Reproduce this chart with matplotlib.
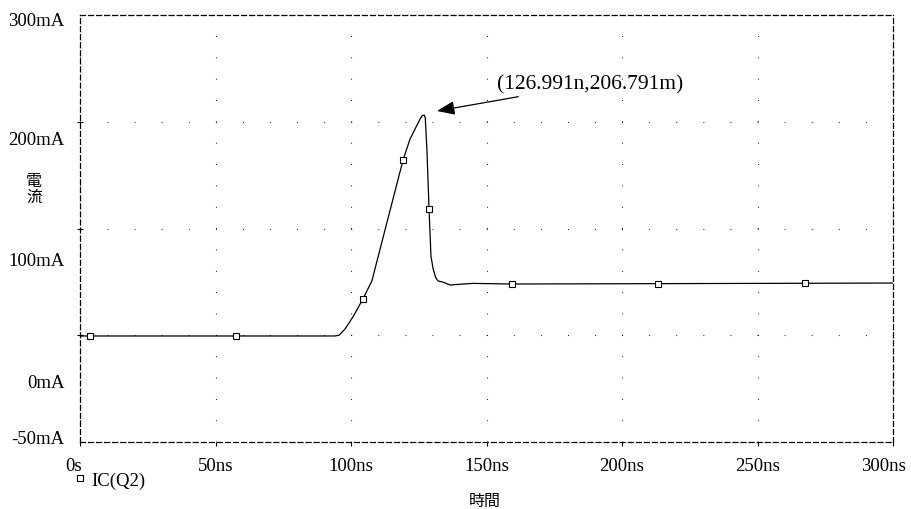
import numpy as np
import matplotlib
matplotlib.use("Agg")
import matplotlib.pyplot as plt
from matplotlib.lines import Line2D
from matplotlib.transforms import ScaledTranslation

plt.rcParams['font.family'] = ['Liberation Serif', 'Noto Sans CJK TC', 'DejaVu Sans']
plt.rcParams['lines.scale_dashes'] = False

# IC(Q2) trace, time in ns, current in mA
time_ns = [0, 3.7, 57.6, 94.0, 95.6, 97.8, 100.7, 104.4, 107.7, 119.2, 121.8,
           125.5, 126.3, 126.99, 127.4, 128.0, 128.8, 129.5, 130.3, 131.2,
           132.1, 133.9, 136.5, 140.2, 145.0, 159.4, 213.3, 267.5, 300]
current_ma = [36.9, 36.9, 36.9, 36.9, 37.5, 42.6, 52.5, 67.2, 82.0, 181.1, 198.4,
              214.8, 217.5, 218.0, 216.0, 190.2, 141.0, 102.5, 92.0, 85.0,
              82.0, 81.1, 78.7, 79.3, 80.0, 79.5, 79.8, 80.1, 80.3]
marker_times = [3.7, 57.6, 104.4, 119.2, 128.8, 159.4, 213.3, 267.5]

x_ticks = [0, 50, 100, 150, 200, 250, 300]
x_labels = ["0s", "50ns", "100ns", "150ns", "200ns", "250ns", "300ns"]
y_ticks = [-50, 0, 100, 200, 300]
y_labels = ["-50mA", "0mA", "100mA", "200mA", "300mA"]

peak_label = "(126.991n,206.791m)"

fig = plt.figure(figsize=(9.12, 5.10), dpi=100)
ax = fig.add_axes([80 / 912, 1 - 443 / 510, 813 / 912, 427 / 510])

marker_idx = [time_ns.index(t) for t in marker_times]
ax.plot(time_ns, current_ma, color='black', linewidth=0.9,
        marker='s', markevery=marker_idx, markersize=4.5,
        markerfacecolor='white', markeredgecolor='black', markeredgewidth=0.8,
        zorder=3)

ax.set_xlim(0, 300)
ax.set_ylim(-50, 300)

# x axis
ax.set_xticks(x_ticks)
ax.set_xticklabels(x_labels, fontsize=13.5)
ax.tick_params(axis='x', which='major', direction='out', length=3, width=0.8, pad=8)

# y axis: grid rows split the range in four, labels sit at their own values
ax.set_yticks(np.linspace(-50, 300, 5)[1:-1])
ax.set_yticklabels([])
ax.set_yticks(y_ticks, minor=True)
ax.set_yticklabels(y_labels, minor=True, fontsize=13.5)
ax.tick_params(axis='y', which='major', direction='inout', length=4, width=0.8)
ax.tick_params(axis='y', which='minor', length=0, pad=11)

# nudge the end labels the way the original sits them
def nudge(lbl, dx, dy):
    lbl.set_transform(lbl.get_transform() +
                      ScaledTranslation(dx / 100, dy / 100, fig.dpi_scale_trans))

xl = ax.get_xticklabels()
nudge(xl[0], -6, 0)
nudge(xl[-1], -10, 0)
yl = ax.get_yticklabels(minor=True)
nudge(yl[0], 0, 5)
nudge(yl[-1], 0, -3)

# dotted grid
ax.xaxis.grid(True, color='black', linewidth=0.8, linestyle=(0, (0.6, 14.77)))
ax.yaxis.grid(True, color='black', linewidth=0.8, linestyle=(0, (0.6, 18.9)))

for sp in ax.spines.values():
    sp.set_linestyle((0, (3.6, 2.2)))
    sp.set_linewidth(0.9)
    sp.set_color('black')

ax.set_ylabel("電\n流", rotation=0, fontsize=11.5, linespacing=1.0,
              ha='center', va='center')
ax.yaxis.set_label_coords(-0.0566, 0.5925)
ax.set_xlabel("時間", fontsize=11.5)
ax.xaxis.set_label_coords(0.498, -0.119)

ax.annotate(peak_label, xy=(131.7, 221.3), xytext=(153.9, 243.4),
            fontsize=15.5, ha='left', va='center',
            arrowprops=dict(arrowstyle='-|>,head_length=0.7,head_width=0.27',
                            color='black', linewidth=0.9, shrinkA=1, shrinkB=0))

handle = Line2D([], [], linestyle='none', marker='s', markersize=4.5,
                markerfacecolor='white', markeredgecolor='black',
                markeredgewidth=0.8)
ax.legend([handle], ["IC(Q2)"], loc='center left', bbox_to_anchor=(-0.0066, -0.089),
          frameon=False, fontsize=13.5, handlelength=0.6, handletextpad=0.3,
          borderpad=0, borderaxespad=0)

fig.savefig("out.png", dpi=100)
